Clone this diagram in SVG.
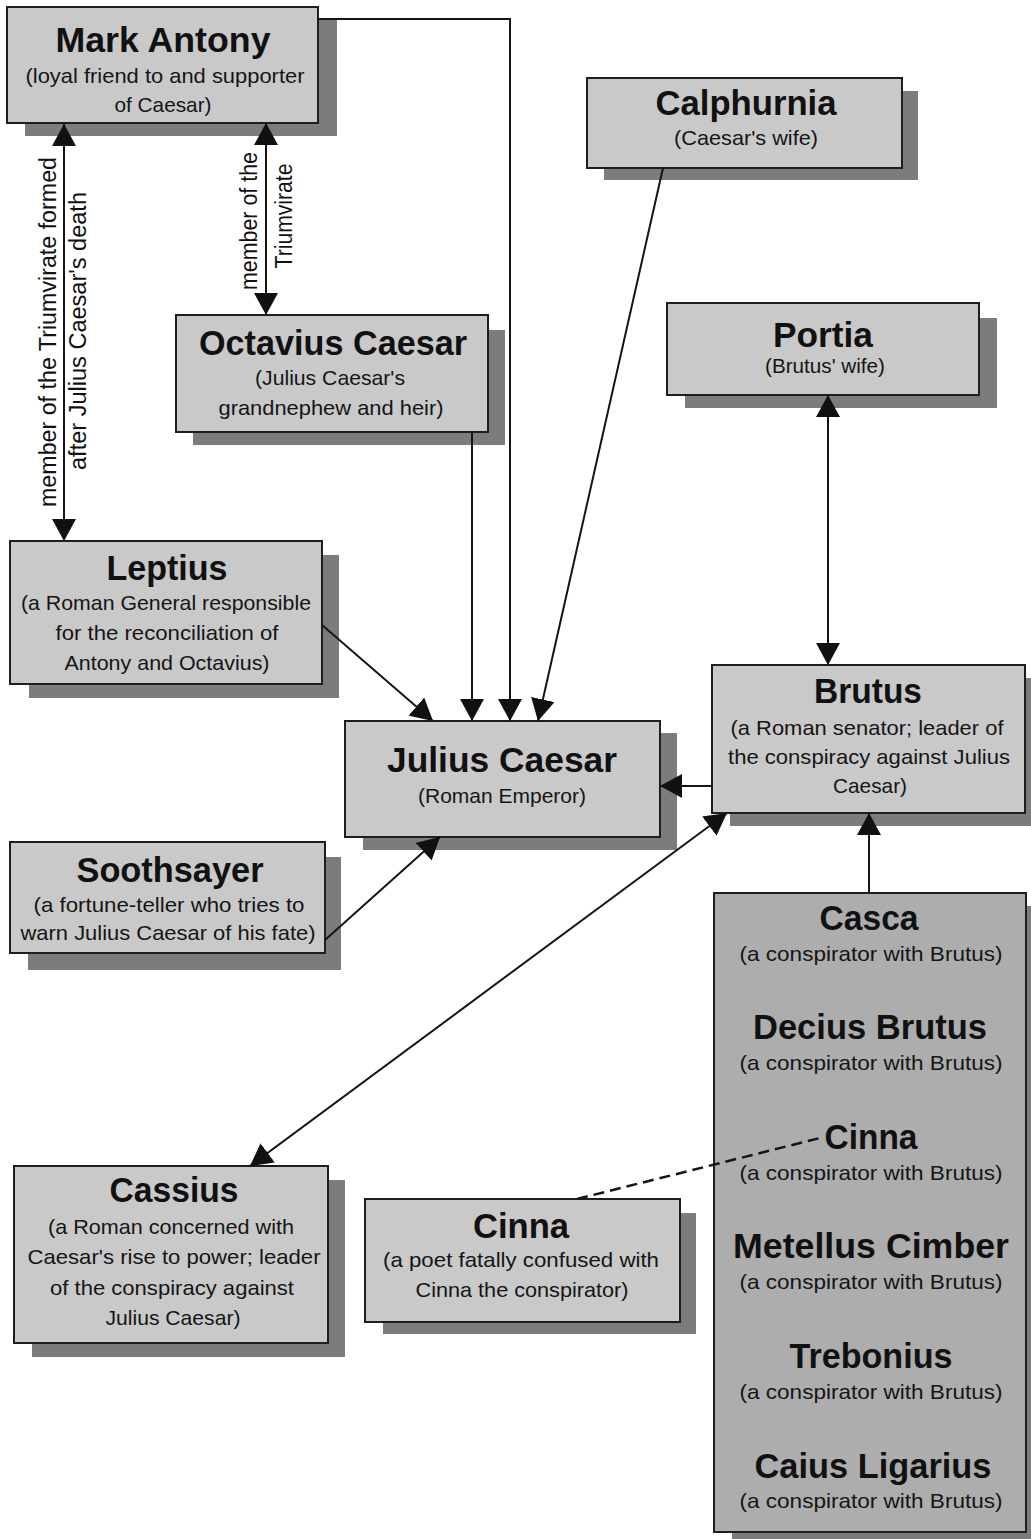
<svg xmlns="http://www.w3.org/2000/svg" width="1031" height="1539" viewBox="0 0 1031 1539">
<style>
.bg{fill:#ffffff}
.box{fill:#c9c9c9;stroke:#1e1e1e;stroke-width:2}
.dark{fill:#adadad}
.sh{fill:#7c7c7c}
.t{font-family:"Liberation Sans",Arial,sans-serif;font-weight:bold;font-size:35px;fill:#111;text-anchor:middle}
.s{font-family:"Liberation Sans",Arial,sans-serif;font-size:21px;fill:#151515;text-anchor:middle}
.lbl{font-family:"Liberation Sans",Arial,sans-serif;font-size:23px;fill:#111;text-anchor:middle}
.ln{fill:none;stroke:#151515;stroke-width:2}
.dash{fill:none;stroke:#151515;stroke-width:2.5;stroke-dasharray:11 6}
</style>
<defs>
<marker id="ah" viewBox="0 0 22 24" refX="22" refY="12" markerWidth="22" markerHeight="24" markerUnits="userSpaceOnUse" orient="auto-start-reverse">
<path d="M0,0 L22,12 L0,24 z" fill="#111"/>
</marker>
</defs>
<rect class="bg" x="0" y="0" width="1031" height="1539"/>

<g id="mark-antony">
<rect class="sh" x="25" y="20" width="312" height="116"/>
<rect class="box" x="7" y="7" width="311" height="116"/>
<text class="t" x="163" y="52" textLength="215" lengthAdjust="spacingAndGlyphs">Mark Antony</text>
<text class="s" x="165" y="83" textLength="279" lengthAdjust="spacingAndGlyphs">(loyal friend to and supporter</text>
<text class="s" x="163" y="112" textLength="97" lengthAdjust="spacingAndGlyphs">of Caesar)</text>
</g>

<g id="calphurnia">
<rect class="sh" x="604" y="91" width="314" height="89"/>
<rect class="box" x="587" y="78" width="315" height="90"/>
<text class="t" x="746" y="115" textLength="181" lengthAdjust="spacingAndGlyphs">Calphurnia</text>
<text class="s" x="746" y="145" textLength="144" lengthAdjust="spacingAndGlyphs">(Caesar's wife)</text>
</g>

<g id="octavius-caesar">
<rect class="sh" x="193" y="330" width="312" height="115"/>
<rect class="box" x="176" y="315" width="312" height="117"/>
<text class="t" x="333" y="355" textLength="268" lengthAdjust="spacingAndGlyphs">Octavius Caesar</text>
<text class="s" x="330" y="385" textLength="150" lengthAdjust="spacingAndGlyphs">(Julius Caesar's</text>
<text class="s" x="331" y="415" textLength="225" lengthAdjust="spacingAndGlyphs">grandnephew and heir)</text>
</g>

<g id="portia">
<rect class="sh" x="685" y="318" width="312" height="90"/>
<rect class="box" x="667" y="303" width="312" height="92"/>
<text class="t" x="823" y="347" textLength="100" lengthAdjust="spacingAndGlyphs">Portia</text>
<text class="s" x="825" y="373" textLength="120" lengthAdjust="spacingAndGlyphs">(Brutus' wife)</text>
</g>

<g id="leptius">
<rect class="sh" x="29" y="555" width="310" height="143"/>
<rect class="box" x="10" y="541" width="312" height="143"/>
<text class="t" x="167" y="580" textLength="121" lengthAdjust="spacingAndGlyphs">Leptius</text>
<text class="s" x="166" y="610" textLength="290" lengthAdjust="spacingAndGlyphs">(a Roman General responsible</text>
<text class="s" x="167" y="640" textLength="223" lengthAdjust="spacingAndGlyphs">for the reconciliation of</text>
<text class="s" x="167" y="670" textLength="205" lengthAdjust="spacingAndGlyphs">Antony and Octavius)</text>
</g>

<g id="julius-caesar">
<rect class="sh" x="363" y="733" width="314" height="117"/>
<rect class="box" x="345" y="721" width="315" height="116"/>
<text class="t" x="502" y="772" textLength="230" lengthAdjust="spacingAndGlyphs">Julius Caesar</text>
<text class="s" x="502" y="803" textLength="168" lengthAdjust="spacingAndGlyphs">(Roman Emperor)</text>
</g>

<g id="brutus">
<rect class="sh" x="730" y="678" width="313" height="148"/>
<rect class="box" x="712" y="665" width="313" height="148"/>
<text class="t" x="868" y="703" textLength="108" lengthAdjust="spacingAndGlyphs">Brutus</text>
<text class="s" x="867" y="735" textLength="273" lengthAdjust="spacingAndGlyphs">(a Roman senator; leader of</text>
<text class="s" x="869" y="764" textLength="282" lengthAdjust="spacingAndGlyphs">the conspiracy against Julius</text>
<text class="s" x="870" y="793" textLength="74" lengthAdjust="spacingAndGlyphs">Caesar)</text>
</g>

<g id="soothsayer">
<rect class="sh" x="28" y="857" width="313" height="113"/>
<rect class="box" x="10" y="842" width="315" height="111"/>
<text class="t" x="170" y="882" textLength="187" lengthAdjust="spacingAndGlyphs">Soothsayer</text>
<text class="s" x="169" y="912" textLength="271" lengthAdjust="spacingAndGlyphs">(a fortune-teller who tries to</text>
<text class="s" x="168" y="940" textLength="295" lengthAdjust="spacingAndGlyphs">warn Julius Caesar of his fate)</text>
</g>

<g id="cassius">
<rect class="sh" x="32" y="1180" width="313" height="177"/>
<rect class="box" x="14" y="1166" width="314" height="177"/>
<text class="t" x="174" y="1202" textLength="129" lengthAdjust="spacingAndGlyphs">Cassius</text>
<text class="s" x="171" y="1234" textLength="246" lengthAdjust="spacingAndGlyphs">(a Roman concerned with</text>
<text class="s" x="174" y="1264" textLength="293" lengthAdjust="spacingAndGlyphs">Caesar's rise to power; leader</text>
<text class="s" x="172" y="1295" textLength="244" lengthAdjust="spacingAndGlyphs">of the conspiracy against</text>
<text class="s" x="173" y="1325" textLength="135" lengthAdjust="spacingAndGlyphs">Julius Caesar)</text>
</g>

<g id="cinna-poet">
<rect class="sh" x="383" y="1213" width="313" height="121"/>
<rect class="box" x="365" y="1199" width="315" height="123"/>
<text class="t" x="521" y="1238" textLength="96" lengthAdjust="spacingAndGlyphs">Cinna</text>
<text class="s" x="521" y="1267" textLength="276" lengthAdjust="spacingAndGlyphs">(a poet fatally confused with</text>
<text class="s" x="522" y="1297" textLength="213" lengthAdjust="spacingAndGlyphs">Cinna the conspirator)</text>
</g>

<g id="conspirators">
<rect class="sh" x="732" y="906" width="312" height="640"/>
<rect class="box dark" x="714" y="893" width="312" height="639"/>
<text class="t" x="869" y="930" textLength="99" lengthAdjust="spacingAndGlyphs">Casca</text>
<text class="s" x="871" y="961" textLength="263" lengthAdjust="spacingAndGlyphs">(a conspirator with Brutus)</text>
<text class="t" x="870" y="1039" textLength="234" lengthAdjust="spacingAndGlyphs">Decius Brutus</text>
<text class="s" x="871" y="1070" textLength="263" lengthAdjust="spacingAndGlyphs">(a conspirator with Brutus)</text>
<text class="t" x="871" y="1149" textLength="93" lengthAdjust="spacingAndGlyphs">Cinna</text>
<text class="s" x="871" y="1180" textLength="263" lengthAdjust="spacingAndGlyphs">(a conspirator with Brutus)</text>
<text class="t" x="871" y="1258" textLength="276" lengthAdjust="spacingAndGlyphs">Metellus Cimber</text>
<text class="s" x="871" y="1289" textLength="263" lengthAdjust="spacingAndGlyphs">(a conspirator with Brutus)</text>
<text class="t" x="871" y="1368" textLength="163" lengthAdjust="spacingAndGlyphs">Trebonius</text>
<text class="s" x="871" y="1399" textLength="263" lengthAdjust="spacingAndGlyphs">(a conspirator with Brutus)</text>
<text class="t" x="873" y="1478" textLength="237" lengthAdjust="spacingAndGlyphs">Caius Ligarius</text>
<text class="s" x="871" y="1508" textLength="263" lengthAdjust="spacingAndGlyphs">(a conspirator with Brutus)</text>
</g>

<g id="connectors">
<path class="ln" d="M64,124 V541" marker-start="url(#ah)" marker-end="url(#ah)"/>
<path class="ln" d="M266,123 V315" marker-start="url(#ah)" marker-end="url(#ah)"/>
<path class="ln" d="M318,19 H510 V721" marker-end="url(#ah)"/>
<path class="ln" d="M472,432 V721" marker-end="url(#ah)"/>
<path class="ln" d="M663,168 L538,721" marker-end="url(#ah)"/>
<path class="ln" d="M828,395 V665" marker-start="url(#ah)" marker-end="url(#ah)"/>
<path class="ln" d="M322,625 L433,721" marker-end="url(#ah)"/>
<path class="ln" d="M325,940 L440,837" marker-end="url(#ah)"/>
<path class="ln" d="M712,786 H660" marker-end="url(#ah)"/>
<path class="ln" d="M250,1166 L727,813" marker-start="url(#ah)" marker-end="url(#ah)"/>
<path class="ln" d="M869,893 V813" marker-end="url(#ah)"/>
<path class="dash" d="M577,1199 L820,1138"/>
<text class="lbl" transform="translate(56,332) rotate(-90)" textLength="350" lengthAdjust="spacingAndGlyphs">member of the Triumvirate formed</text>
<text class="lbl" transform="translate(86,331) rotate(-90)" textLength="278" lengthAdjust="spacingAndGlyphs">after Julius Caesar's death</text>
<text class="lbl" transform="translate(257,221) rotate(-90)" textLength="138" lengthAdjust="spacingAndGlyphs">member of the</text>
<text class="lbl" transform="translate(292,216) rotate(-90)" textLength="105" lengthAdjust="spacingAndGlyphs">Triumvirate</text>
</g>
</svg>
